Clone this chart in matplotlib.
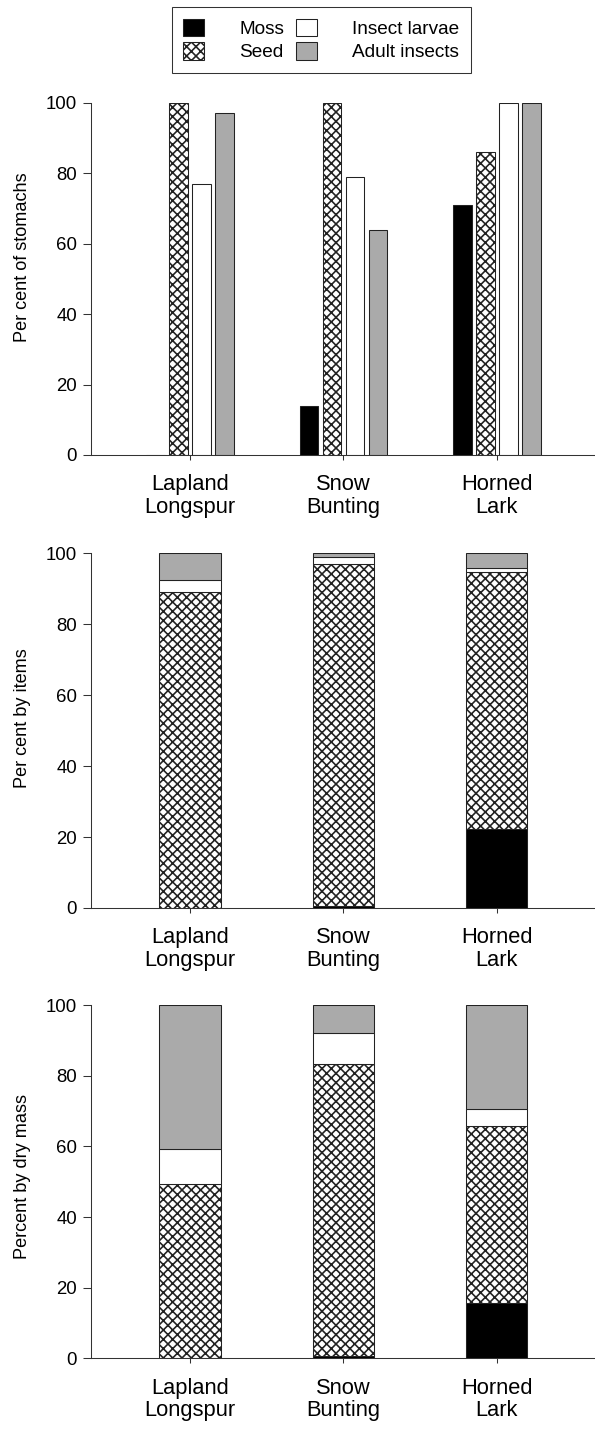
import matplotlib
matplotlib.use('Agg')
import matplotlib.pyplot as plt
import numpy as np
from matplotlib.patches import Patch

plt.rcParams['font.family'] = ['Liberation Sans', 'DejaVu Sans']
plt.rcParams['hatch.linewidth'] = 1.4

# data
species = ['Lapland\nLongspur', 'Snow\nBunting', 'Horned\nLark']
items = ['Moss', 'Seed', 'Insect larvae', 'Adult insects']

# per cent of stomachs containing the item
stomachs_moss = [0, 14, 71]
stomachs_seed = [100, 100, 86]
stomachs_larvae = [77, 79, 100]
stomachs_adult = [97, 64, 100]

# per cent by items (stacked)
items_moss = [0, 0.5, 22.3]
items_seed = [89, 96.4, 72.3]
items_larvae = [3.5, 2.1, 1.2]
items_adult = [7.5, 1.0, 4.2]

# percent by dry mass (stacked)
mass_moss = [0, 0.5, 15.6]
mass_seed = [49.3, 82.9, 50.3]
mass_larvae = [10.1, 8.8, 4.8]
mass_adult = [40.6, 7.8, 29.3]

ylabels = ['Per cent of stomachs', 'Per cent by items', 'Percent by dry mass']

styles = [
    dict(facecolor='black', hatch=None),
    dict(facecolor='white', hatch='xxx'),
    dict(facecolor='white', hatch=None),
    dict(facecolor='#aaaaaa', hatch=None),
]
edge = '#222222'

DPI = 84
fig = plt.figure(figsize=(595 / DPI, 1429 / DPI), dpi=DPI)

# axes rectangles [left, bottom, width, height] in figure fraction
rects = [
    [0.1530, 0.6816, 0.8470, 0.2465],
    [0.1530, 0.3646, 0.8470, 0.2482],
    [0.1530, 0.0495, 0.8470, 0.2470],
]
label_y = [0.562, 0.536, 0.516]

x = np.arange(len(species))


def style_axes(ax, i):
    ax.set_xlim(-0.645, 2.64)
    ax.set_ylim(0, 100)
    ax.set_yticks([0, 20, 40, 60, 80, 100])
    ax.set_xticks(x)
    ax.set_xticklabels(species, fontsize=18.8, linespacing=1.1)
    ax.tick_params(axis='y', labelsize=16, length=7, width=0.9, pad=5, color='#333333')
    ax.tick_params(axis='x', length=4.5, width=0.9, pad=12, color='#333333')
    for s in ['top', 'right']:
        ax.spines[s].set_visible(False)
    for s in ['left', 'bottom']:
        ax.spines[s].set_linewidth(0.9)
        ax.spines[s].set_color('#333333')
    ax.set_ylabel(ylabels[i], fontsize=15.5)
    ax.yaxis.set_label_coords(-0.12, label_y[i])


# panel 1: grouped bars
ax1 = fig.add_axes(rects[0])
series1 = [stomachs_moss, stomachs_seed, stomachs_larvae, stomachs_adult]
pitch = 0.15
for k, vals in enumerate(series1):
    ax1.bar(x + (k - 1.5) * pitch, vals, width=0.12, edgecolor=edge,
            linewidth=0.9, **styles[k])
style_axes(ax1, 0)

# panels 2 and 3: stacked bars
for i, series in [(1, [items_moss, items_seed, items_larvae, items_adult]),
                  (2, [mass_moss, mass_seed, mass_larvae, mass_adult])]:
    ax = fig.add_axes(rects[i])
    bottom = np.zeros(len(species))
    for k, vals in enumerate(series):
        ax.bar(x, vals, width=0.40, bottom=bottom, edgecolor=edge,
               linewidth=0.9, **styles[k])
        bottom = bottom + np.array(vals)
    style_axes(ax, i)

handles = [Patch(edgecolor=edge, linewidth=0.9, **st) for st in styles]
leg = fig.legend(handles, items, loc='center', ncol=2,
                 bbox_to_anchor=(0.54, 0.972), fontsize=16.3,
                 handlelength=1.1, handleheight=1.05, handletextpad=1.85,
                 columnspacing=0.6, labelspacing=0.2, borderpad=0.6,
                 fancybox=False, framealpha=1)
leg.get_frame().set_edgecolor('#333333')
leg.get_frame().set_linewidth(0.9)

fig.savefig('out.png', dpi=DPI)
